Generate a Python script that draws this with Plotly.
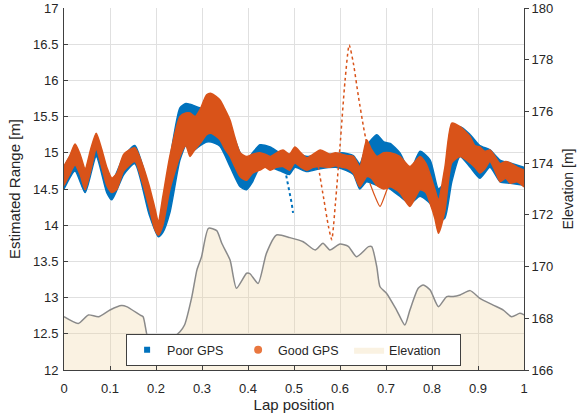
import plotly.graph_objects as go

# ---------------- data ----------------
# Elevation profile [m] (right axis)
elev_x = [0.000, 0.031, 0.053, 0.075, 0.100, 0.125, 0.136, 0.165, 0.172, 0.183,
          0.195, 0.210, 0.225, 0.240, 0.252, 0.262, 0.278, 0.289, 0.299, 0.314,
          0.332, 0.343, 0.361, 0.375, 0.397, 0.404, 0.422, 0.440, 0.462, 0.491,
          0.520, 0.546, 0.563, 0.578, 0.600, 0.618, 0.636, 0.662, 0.669, 0.680,
          0.687, 0.701, 0.723, 0.741, 0.752, 0.770, 0.781, 0.796, 0.814, 0.832,
          0.846, 0.861, 0.883, 0.904, 0.933, 0.955, 0.973, 0.991, 1.000]
elev_y = [168.06, 167.80, 168.13, 168.06, 168.32, 168.49, 168.45, 168.13, 168.06, 167.20,
          167.10, 167.15, 167.20, 167.30, 167.48, 167.74, 168.84, 169.87, 170.38, 171.48,
          171.39, 170.90, 170.25, 169.16, 169.74, 169.73, 169.35, 170.51, 171.22, 171.12,
          170.96, 170.64, 170.90, 170.64, 170.87, 170.78, 170.38, 170.77, 170.77, 169.99,
          169.22, 168.97, 168.32, 167.74, 168.32, 169.16, 169.29, 169.09, 168.45, 168.84,
          168.84, 168.90, 169.07, 168.77, 168.51, 168.32, 168.06, 168.19, 168.13]

# Good GPS laps: envelope of estimated range [m]
good_x = [0.000, 0.012, 0.024, 0.035, 0.046, 0.058, 0.070, 0.082, 0.093, 0.104,
          0.115, 0.130, 0.154, 0.170, 0.185, 0.197, 0.205, 0.215, 0.230, 0.252,
          0.265, 0.274, 0.285, 0.296, 0.310, 0.320, 0.339, 0.350, 0.361, 0.372,
          0.383, 0.397, 0.410, 0.426, 0.437, 0.448, 0.462, 0.476, 0.490, 0.502,
          0.515, 0.528, 0.542, 0.557, 0.578, 0.590, 0.604, 0.618, 0.629, 0.643,
          0.658, 0.668, 0.680, 0.695, 0.709, 0.730, 0.752, 0.774, 0.787, 0.796,
          0.806, 0.814, 0.828, 0.843, 0.861, 0.883, 0.893, 0.904, 0.915, 0.926,
          0.937, 0.948, 0.960, 0.970, 0.985, 1.000]
good_lo = [14.55, 14.70, 14.83, 14.70, 14.49, 14.75, 15.05, 14.80, 14.55, 14.45,
           14.50, 14.75, 14.88, 14.60, 14.25, 13.95, 13.86, 14.00, 14.49, 14.95,
           15.10, 14.95, 15.05, 15.13, 15.25, 15.27, 15.18, 15.05, 14.95, 14.80,
           14.67, 14.62, 14.72, 14.76, 14.80, 14.76, 14.80, 14.81, 14.76, 14.86,
           14.80, 14.76, 14.80, 14.81, 14.80, 14.82, 14.80, 14.78, 14.72, 14.53,
           14.67, 14.65, 14.55, 14.50, 14.53, 14.45, 14.26, 14.49, 14.45, 14.30,
           14.10, 13.89, 14.20, 14.86, 14.95, 14.86, 14.80, 14.72, 14.78, 14.88,
           14.75, 14.60, 14.65, 14.58, 14.60, 14.53]
good_hi = [14.82, 14.95, 15.12, 14.98, 14.78, 15.05, 15.27, 15.05, 14.80, 14.65,
           14.72, 14.98, 15.07, 14.85, 14.55, 14.25, 14.05, 14.40, 14.95, 15.50,
           15.55, 15.55, 15.50, 15.60, 15.80, 15.82, 15.73, 15.60, 15.45, 15.20,
           15.00, 14.95, 14.98, 15.00, 14.98, 14.95, 15.00, 15.04, 14.98, 15.08,
           15.00, 14.93, 14.98, 15.04, 14.98, 15.00, 14.98, 14.96, 14.95, 14.81,
           15.18, 15.05, 14.95, 15.00, 15.00, 14.95, 14.81, 14.95, 14.85, 14.70,
           14.50, 14.35, 14.80, 15.41, 15.36, 15.22, 15.10, 15.08, 15.02, 15.04,
           14.95, 14.85, 14.88, 14.86, 14.80, 14.76]

# Poor GPS laps: envelope of estimated range [m]
poor_x = [0.000, 0.024, 0.046, 0.070, 0.093, 0.104, 0.130, 0.154, 0.185, 0.205,
          0.215, 0.230, 0.252, 0.265, 0.274, 0.296, 0.310, 0.320, 0.339, 0.361,
          0.383, 0.397, 0.410, 0.426, 0.448, 0.470, 0.490, 0.502, 0.528, 0.557,
          0.590, 0.604, 0.629, 0.643, 0.658, 0.680, 0.695, 0.709, 0.730, 0.752,
          0.774, 0.796, 0.814, 0.828, 0.843, 0.861, 0.883, 0.904, 0.926, 0.948,
          0.970, 1.000]
poor_lo = [14.50, 14.75, 14.45, 14.95, 14.45, 14.35, 14.70, 14.85, 14.15, 13.84,
           13.90, 14.17, 14.90, 15.10, 15.00, 15.10, 15.15, 15.15, 15.09, 14.81,
           14.53, 14.49, 14.60, 14.80, 14.80, 14.75, 14.70, 14.80, 14.74, 14.78,
           14.80, 14.78, 14.70, 14.50, 14.60, 14.55, 14.55, 14.50, 14.40, 14.30,
           14.40, 14.30, 14.05, 14.10, 14.60, 14.95, 14.80, 14.65, 14.80, 14.60,
           14.58, 14.55]
poor_hi = [14.80, 15.05, 14.75, 15.22, 14.75, 14.60, 14.95, 15.10, 14.50, 14.00,
           14.30, 14.90, 15.62, 15.68, 15.67, 15.62, 15.60, 15.55, 15.50, 15.35,
           15.00, 14.90, 15.00, 15.11, 15.08, 15.00, 14.98, 15.00, 14.95, 14.98,
           14.98, 15.00, 14.96, 14.85, 15.10, 15.25, 15.15, 15.13, 15.00, 14.75,
           15.02, 14.90, 14.50, 14.60, 15.20, 15.36, 15.25, 15.10, 15.04, 14.90,
           14.86, 14.80]

# Outlier laps
good_out1_x = [0.553, 0.564, 0.575, 0.582, 0.590, 0.600, 0.611, 0.620, 0.629, 0.640, 0.651, 0.658]
good_out1_y = [14.81, 14.39, 13.98, 13.80, 14.30, 15.09, 16.00, 16.49, 16.24, 15.78, 15.36, 15.13]
good_out2_x = [0.665, 0.676, 0.687, 0.698, 0.709]
good_out2_y = [14.58, 14.40, 14.26, 14.42, 14.62]
poor_out_x = [0.478, 0.488, 0.495, 0.498]
poor_out_y = [14.85, 14.55, 14.30, 14.17]

x_ticks = [0, 0.1, 0.2, 0.3, 0.4, 0.5, 0.6, 0.7, 0.8, 0.9, 1]
x_labels = ["0", "0.1", "0.2", "0.3", "0.4", "0.5", "0.6", "0.7", "0.8", "0.9", "1"]
y_ticks = [12, 12.5, 13, 13.5, 14, 14.5, 15, 15.5, 16, 16.5, 17]
y_labels = ["12", "12.5", "13", "13.5", "14", "14.5", "15", "15.5", "16", "16.5", "17"]

# ---------------- styling ----------------
BLUE = "#0072BD"
ORANGE = "#D95319"
FILL = "rgba(237,213,160,0.30)"
FILL_LEG = "rgb(250,242,226)"
FONT = "Liberation Sans, Arial, sans-serif"
TXT = "#262626"
AX = "#404040"
SPL = dict(shape="spline", smoothing=0.6)

fig = go.Figure()

# Poor GPS band
fig.add_trace(go.Scatter(x=poor_x, y=poor_lo, mode="lines", line=dict(color=BLUE, width=1.5, **SPL),
                         showlegend=False, hoverinfo="skip"))
fig.add_trace(go.Scatter(x=poor_x, y=poor_hi, mode="lines", line=dict(color=BLUE, width=1.5, **SPL),
                         fill="tonexty", fillcolor=BLUE, showlegend=False, hoverinfo="skip"))
fig.add_trace(go.Scatter(x=poor_out_x, y=poor_out_y, mode="lines",
                         line=dict(color=BLUE, width=2, dash="dot"), showlegend=False))

# Good GPS band
fig.add_trace(go.Scatter(x=good_x, y=good_lo, mode="lines", line=dict(color=ORANGE, width=1.5, **SPL),
                         showlegend=False, hoverinfo="skip"))
fig.add_trace(go.Scatter(x=good_x, y=good_hi, mode="lines", line=dict(color=ORANGE, width=1.5, **SPL),
                         fill="tonexty", fillcolor=ORANGE, showlegend=False, hoverinfo="skip"))
fig.add_trace(go.Scatter(x=good_out1_x, y=good_out1_y, mode="lines",
                         line=dict(color=ORANGE, width=1.5, dash="dot", **SPL), showlegend=False))
fig.add_trace(go.Scatter(x=good_out2_x, y=good_out2_y, mode="lines",
                         line=dict(color=ORANGE, width=1.2, **SPL), showlegend=False))

# Elevation (right axis)
fig.add_trace(go.Scatter(x=elev_x, y=elev_y, yaxis="y2", mode="lines",
                         line=dict(color="#8a8a8a", width=1.5, **SPL), fill="tozeroy", fillcolor=FILL,
                         showlegend=False))

# Legend entries
fig.add_trace(go.Scatter(x=[None], y=[None], mode="markers", name="Poor GPS",
                         marker=dict(symbol="square", size=6, color=BLUE)))
fig.add_trace(go.Scatter(x=[None], y=[None], mode="markers", name="Good GPS",
                         marker=dict(symbol="circle", size=8, color="#E9773F")))
fig.add_trace(go.Scatter(x=[None], y=[None], mode="lines", name="Elevation", fill="toself",
                         fillcolor=FILL_LEG, line=dict(width=0, color=FILL_LEG)))

fig.update_layout(
    width=582, height=418,
    margin=dict(l=64, r=58, t=8, b=48, autoexpand=False),
    paper_bgcolor="white", plot_bgcolor="white",
    font=dict(family=FONT, size=13, color=TXT),
    xaxis=dict(range=[0, 1], automargin=False, tickvals=x_ticks, ticktext=x_labels,
               tickfont=dict(size=13), ticklabelstandoff=6,
               showgrid=True, gridcolor="#e0e0e0", zeroline=False,
               showline=True, linecolor=AX, linewidth=1,
               ticks="inside", ticklen=4, tickcolor=AX,
               title=dict(text="Lap position", font=dict(size=15), standoff=4)),
    yaxis=dict(range=[12, 17], automargin=False, tickvals=y_ticks, ticktext=y_labels,
               tickfont=dict(size=13), ticklabelstandoff=2,
               showgrid=True, gridcolor="#e0e0e0", zeroline=False,
               showline=True, linecolor=AX, linewidth=1,
               ticks="inside", ticklen=4, tickcolor=AX,
               title=dict(text="Estimated Range [m]", font=dict(size=15), standoff=8)),
    yaxis2=dict(range=[166, 180], dtick=2, overlaying="y", side="right", automargin=False,
                tickfont=dict(size=13), showgrid=False, zeroline=False,
                showline=True, linecolor=AX, linewidth=1,
                ticks="outside", ticklen=4, tickcolor=AX,
                title=dict(text="Elevation [m]", font=dict(size=14), standoff=10)),
    legend=dict(orientation="h", x=0.135, y=0.099, xanchor="left", yanchor="top",
                bgcolor="white", bordercolor=AX, borderwidth=1,
                entrywidth=66, entrywidthmode="pixels",
                font=dict(size=12.5, color=TXT), traceorder="normal",
                tracegroupgap=0),
)

fig.write_html("out.html", config={"displayModeBar": False},
               post_script="document.body.style.margin='0';")
